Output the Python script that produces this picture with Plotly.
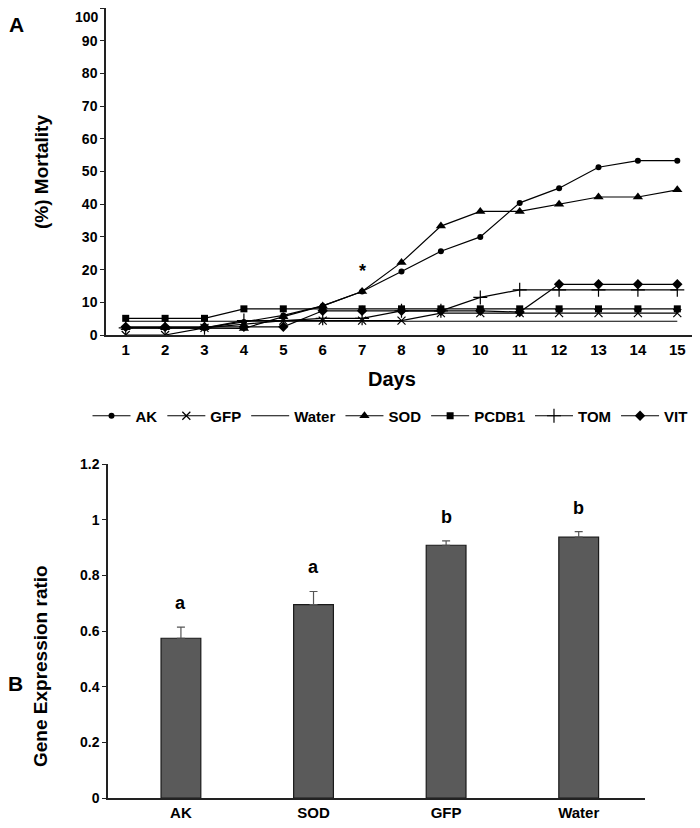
import plotly.graph_objects as go

# The page body has an 8px margin, so the figure is sized and mapped to compensate.
OFF = 8
W, H = 700 - OFF, 828 - OFF

# ---------- Data: panel A ----------
days = list(range(1, 16))
ak = [2.2, 2.2, 2.2, 4.0, 6.0, 8.9, 13.3, 19.4, 25.6, 30.0, 40.4, 44.9, 51.3, 53.3, 53.3]
gfp = [0, 0, 2.2, 3.3, 4.4, 4.4, 4.4, 4.4, 6.7, 6.7, 6.7, 6.7, 6.7, 6.7, 6.7]
water = [4.2] * 15
sod = [2.2, 2.2, 2.2, 2.0, 5.6, 8.9, 13.3, 22.2, 33.3, 37.8, 37.8, 40.0, 42.2, 42.2, 44.4]
pcdb1 = [5.1, 5.1, 5.1, 8.0, 8.0, 8.0, 8.0, 8.0, 8.0, 8.0, 8.0, 8.0, 8.0, 8.0, 8.0]
tom = [2.2, 2.2, 2.2, 4.4, 4.4, 5.1, 5.1, 7.4, 7.4, 11.5, 13.8, 13.8, 13.8, 13.8, 13.8]
vit = [2.5, 2.5, 2.5, 2.5, 2.5, 7.4, 7.4, 7.4, 7.4, 7.4, 7.0, 15.5, 15.5, 15.5, 15.5]
mort_ticks = [0, 10, 20, 30, 40, 50, 60, 70, 80, 90, 100]
star_day, star_val = 7, 19.5

# ---------- Data: panel B ----------
genes = ["AK", "SOD", "GFP", "Water"]
expr = [0.574, 0.695, 0.908, 0.937]
expr_err = [0.040, 0.047, 0.016, 0.020]
letters = ["a", "a", "b", "b"]

FONT = "Liberation Sans Narrow, Arial Narrow, Liberation Sans, Arial"
TFONT = "Liberation Sans, Arial"

def px_x(p):
    return (p - OFF) / W

def px_y(p):
    return 1 - (p - OFF) / H

fig = go.Figure()

series = [
    ("AK", ak, dict(symbol="circle", size=6)),
    ("GFP", gfp, dict(symbol="x-thin-open", size=8, line=dict(width=1.2, color="black"))),
    ("Water", water, None),
    ("SOD", sod, dict(symbol="triangle-up", size=9)),
    ("PCDB1", pcdb1, dict(symbol="square", size=7)),
    ("TOM", tom, dict(symbol="cross-thin-open", size=10, line=dict(width=1.2, color="black"))),
    ("VIT", vit, dict(symbol="diamond", size=8)),
]
for name, vals, mk in series:
    if mk is None:
        fig.add_trace(go.Scatter(x=days, y=vals, name=name, mode="lines",
                                 line=dict(color="black", width=1.2),
                                 xaxis="x", yaxis="y"))
    else:
        mk = dict(mk)
        mk["color"] = "black"
        fig.add_trace(go.Scatter(x=days, y=vals, name=name, mode="lines+markers",
                                 line=dict(color="black", width=1.2), marker=mk,
                                 xaxis="x", yaxis="y"))

# Panel B bars
fig.add_trace(go.Bar(x=genes, y=expr, width=0.3,
                     marker=dict(color="#5a5a5a", line=dict(color="#1a1a1a", width=1.2)),
                     error_y=dict(type="data", array=expr_err, arrayminus=[0]*4,
                                  color="#555555", thickness=1.2, width=4),
                     showlegend=False, xaxis="x2", yaxis="y2"))

axis_common = dict(showgrid=False, zeroline=False, showline=True, automargin=False,
                   ticklabeloverflow="allow", linecolor="#222222", linewidth=1.5)

# top tick label is drawn as an annotation nudged down so it is not clipped
mort_text = [str(v) for v in mort_ticks[:-1]] + [""]

fig.update_layout(
    width=W, height=H,
    margin=dict(l=0, r=0, t=0, b=0, pad=0),
    paper_bgcolor="white", plot_bgcolor="white",
    font=dict(family=FONT, color="black"),
    xaxis=dict(domain=[px_x(106), px_x(697)], range=[0.5, 15.5], tickmode="array",
               tickvals=days, ticks="", anchor="y",
               tickfont=dict(size=15, family=FONT, weight="bold"), **axis_common),
    yaxis=dict(domain=[px_y(335), px_y(8)], range=[0, 100], tickmode="array",
               tickvals=mort_ticks, ticktext=mort_text, ticks="outside",
               ticklen=4, tickcolor="#222222", anchor="x",
               tickfont=dict(size=14, family=FONT, weight="bold"), **axis_common),
    xaxis2=dict(domain=[px_x(108), px_x(645)], range=[-0.55, 3.5], ticks="", anchor="y2",
                tickfont=dict(size=15, family=FONT, weight="bold"), **axis_common),
    yaxis2=dict(domain=[px_y(798), px_y(464)], range=[0, 1.2], dtick=0.2, ticks="outside",
                ticklen=4, tickcolor="#222222", anchor="x2",
                tickfont=dict(size=14, family=FONT, weight="bold"), **axis_common),
    legend=dict(orientation="h", x=px_x(390), xanchor="center", y=px_y(416), yanchor="middle",
                font=dict(size=15, family=FONT, weight="bold"), itemwidth=38,
                tracegroupgap=0, bgcolor="rgba(0,0,0,0)"),
    showlegend=True,
)

def pa(text, x, y, size, angle=0):
    return dict(text=text, x=px_x(x), y=px_y(y), xref="paper", yref="paper",
                xanchor="center", yanchor="middle", showarrow=False, textangle=angle,
                font=dict(size=size, family=TFONT))

ann = [
    pa("<b>A</b>", 16, 24, 21),
    pa("<b>B</b>", 15, 683, 21),
    pa("<b>Days</b>", 392, 379, 20),
    pa("<b>(%) Mortality</b>", 42, 172, 19, -90),
    pa("<b>Gene Expression ratio</b>", 40, 666, 19, -90),
]
ann.append(dict(text="<b>" + str(mort_ticks[-1]) + "</b>", x=px_x(106), y=mort_ticks[-1],
                xref="paper", yref="y", xanchor="right", yanchor="middle",
                xshift=-6, yshift=-9, showarrow=False, borderpad=0,
                font=dict(size=14, family=FONT)))
ann.append(dict(text="<b>*</b>", x=star_day, y=star_val, xref="x", yref="y", showarrow=False,
                font=dict(size=18, family=TFONT)))
for g, v, e, l in zip(genes, expr, expr_err, letters):
    ann.append(dict(text="<b>" + l + "</b>", x=g, y=v + e, xref="x2", yref="y2",
                    yanchor="middle", yshift=24, showarrow=False,
                    font=dict(size=18, family=TFONT)))
fig.update_layout(annotations=ann)

fig.write_html("out.html")
